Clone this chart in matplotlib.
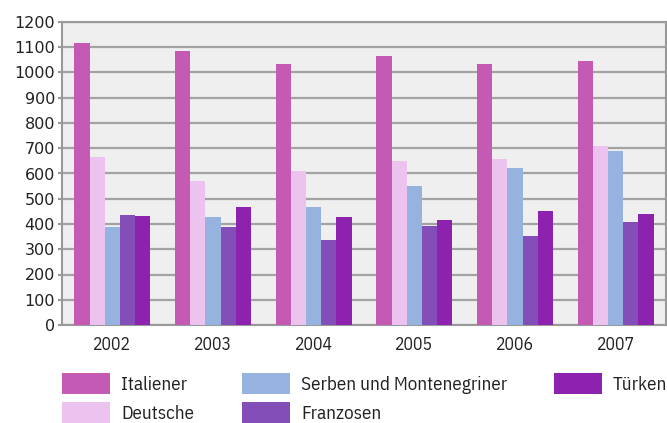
import matplotlib
matplotlib.use("Agg")
import matplotlib.pyplot as plt
import numpy as np
from matplotlib import font_manager as fm
from matplotlib.patches import Rectangle

years = ["2002", "2003", "2004", "2005", "2006", "2007"]
italiener = [1117, 1085, 1034, 1065, 1034, 1046]
deutsche = [665, 570, 610, 650, 657, 709]
serben = [388, 428, 467, 550, 622, 689]
franzosen = [436, 388, 337, 392, 352, 408]
tuerken = [432, 467, 428, 416, 451, 440]
series_names = ["Italiener", "Deutsche", "Serben und Montenegriner", "Franzosen", "Türken"]
colors = ["#C45AB4", "#EBC3EE", "#96B2DE", "#834EB8", "#8C22AE"]

names = {f.name for f in fm.fontManager.ttflist}
narrow = [n for n in ["IBM Plex Sans Condensed", "Encode Sans Semi Condensed", "Roboto Condensed"] if n in names] + ["DejaVu Sans"]

W, H = 667, 423
fig = plt.figure(figsize=(W / 100, H / 100), dpi=100)
ax = fig.add_axes([62 / W, 1 - 325 / H, 604 / W, 303 / H])
ax.set_facecolor("#EFEFEF")

data = [italiener, deutsche, serben, franzosen, tuerken]
x = np.arange(len(years))
bw = 0.151
for i, (vals, c) in enumerate(zip(data, colors)):
    ax.bar(x + (i - 2) * bw, vals, width=bw, color=c, zorder=3, linewidth=0)

ax.set_xlim(-0.5, 5.5)
ax.set_ylim(0, 1200)
ax.set_yticks(range(0, 1201, 100))
ax.yaxis.grid(True, color="#A3A3A3", linewidth=1.6, zorder=1)
ax.set_axisbelow(True)
for s in ax.spines.values():
    s.set_color("#999999")
    s.set_linewidth(1.5)
ax.tick_params(axis="y", length=3, width=1.5, color="#999999", labelsize=11.5, pad=2, labelcolor="#222222")
ax.tick_params(axis="x", length=0, pad=8)
ax.set_xticks(x)
ax.set_xticklabels(years, fontfamily=narrow, fontsize=12.8, color="#222222")

# legend drawn in figure pixel layout
cols_x = [62, 242, 554]
rows_y = [373, 402]
pw, ph = 48, 21
order = [(0, 0), (0, 1), (1, 0), (1, 1), (2, 0)]
for (ci, ri), name, c in zip(order, series_names, colors):
    x0, y0 = cols_x[ci], rows_y[ri]
    fig.patches.append(Rectangle((x0 / W, 1 - (y0 + ph) / H), pw / W, ph / H,
                                 transform=fig.transFigure, facecolor=c, edgecolor="none"))
    fig.text((x0 + pw + 11) / W, 1 - (y0 + ph / 2 + 1) / H, name, va="center", ha="left",
             fontfamily=narrow, fontsize=13.7, color="#222222")

fig.savefig("out.png", dpi=100)
